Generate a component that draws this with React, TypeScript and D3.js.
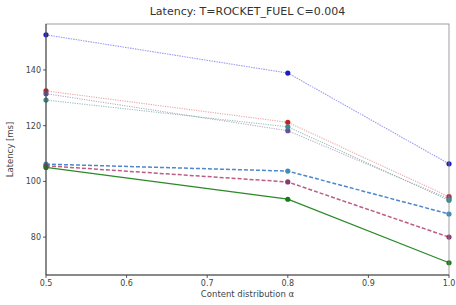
import React from "react";
import * as d3 from "d3";

const xValues = [0.5, 0.8, 1.0];
const xTicks = [0.5, 0.6, 0.7, 0.8, 0.9, 1.0];
const yTicks = [80, 100, 120, 140];

const blueDotted = [152.6, 138.9, 106.3];
const redDotted = [132.5, 121.2, 94.5];
const purpleDotted = [131.5, 118.2, 93.8];
const tealDotted = [129.2, 119.6, 93.2];
const cyanDashed = [106.2, 103.7, 88.3];
const redDashed = [105.6, 99.8, 80.0];
const greenSolid = [105.0, 93.6, 70.8];

const seriesList = [
  { name: "blueDotted", values: blueDotted, color: "#8a8af2", marker: "#1c1cc0", dash: "1.5,1", width: 1.1, opacity: 0.85 },
  { name: "redDotted", values: redDotted, color: "#e59090", marker: "#c82020", dash: "1.2,1.2", width: 1.1, opacity: 0.8 },
  { name: "purpleDotted", values: purpleDotted, color: "#a898b8", marker: "#6a4ca0", dash: "1.2,1.2", width: 1.1, opacity: 0.8 },
  { name: "tealDotted", values: tealDotted, color: "#80b0a8", marker: "#3a8a8a", dash: "1.2,1.2", width: 1.1, opacity: 0.8 },
  { name: "cyanDashed", values: cyanDashed, color: "#3a7ac8", marker: "#3a90b8", dash: "4,2", width: 1.5, opacity: 0.9 },
  { name: "redDashed", values: redDashed, color: "#b04070", marker: "#8a3a6a", dash: "4,2", width: 1.5, opacity: 0.85 },
  { name: "greenSolid", values: greenSolid, color: "#2a8a2a", marker: "#1a7a1a", dash: "", width: 1.3, opacity: 1 },
];

export default function App() {
  const W = 456, H = 305;
  const left = 46, right = 449, top = 24, bottom = 275;
  const x = d3.scaleLinear().domain([0.5, 1.0]).range([left, right]);
  const y = d3.scaleLinear().domain([66.4, 156.5]).range([bottom, top]);
  const line = d3.line<number>().x((_, i) => x(xValues[i])).y((v) => y(v));
  const font = "DejaVu Sans, sans-serif";
  return (
    <svg width={W} height={H} style={{ position: "absolute", left: 0, top: 0, background: "#fff" }}>
      <text x={(left + right) / 2} y={15} textAnchor="middle" fontFamily={font} fontSize={11} fill="#333">
        Latency: T=ROCKET_FUEL C=0.004
      </text>
      {seriesList.map((s) => (
        <g key={s.name}>
          <path d={line(s.values) || ""} fill="none" stroke={s.color} strokeWidth={s.width}
            strokeDasharray={s.dash || undefined} opacity={s.opacity} />
          {s.values.map((v, i) => (
            <circle key={i} cx={x(xValues[i])} cy={y(v)} r={2.6} fill={s.marker} />
          ))}
        </g>
      ))}
      <rect x={left} y={top} width={right - left} height={bottom - top} fill="none" stroke="#888" strokeWidth={0.8} />
      <line x1={left} x2={left} y1={top} y2={bottom} stroke="#333" strokeWidth={0.9} />
      <line x1={left} x2={right} y1={bottom} y2={bottom} stroke="#333" strokeWidth={0.9} />
      {xTicks.map((t) => (
        <g key={t}>
          <line x1={x(t)} x2={x(t)} y1={bottom} y2={bottom + 3} stroke="#333" strokeWidth={0.8} />
          <text x={x(t)} y={bottom + 11} textAnchor="middle" fontFamily={font} fontSize={8} fill="#444">
            {t.toFixed(1)}
          </text>
        </g>
      ))}
      {yTicks.map((t) => (
        <g key={t}>
          <line x1={left - 3} x2={left} y1={y(t)} y2={y(t)} stroke="#333" strokeWidth={0.8} />
          <text x={left - 5} y={y(t) + 3} textAnchor="end" fontFamily={font} fontSize={8} fill="#444">
            {t}
          </text>
        </g>
      ))}
      <text x={(left + right) / 2} y={bottom + 22} textAnchor="middle" fontFamily={font} fontSize={8.5} fill="#444">
        Content distribution α
      </text>
      <text transform={`translate(13, ${(top + bottom) / 2}) rotate(-90)`} textAnchor="middle" fontFamily={font} fontSize={8.5} fill="#444">
        Latency [ms]
      </text>
    </svg>
  );
}
